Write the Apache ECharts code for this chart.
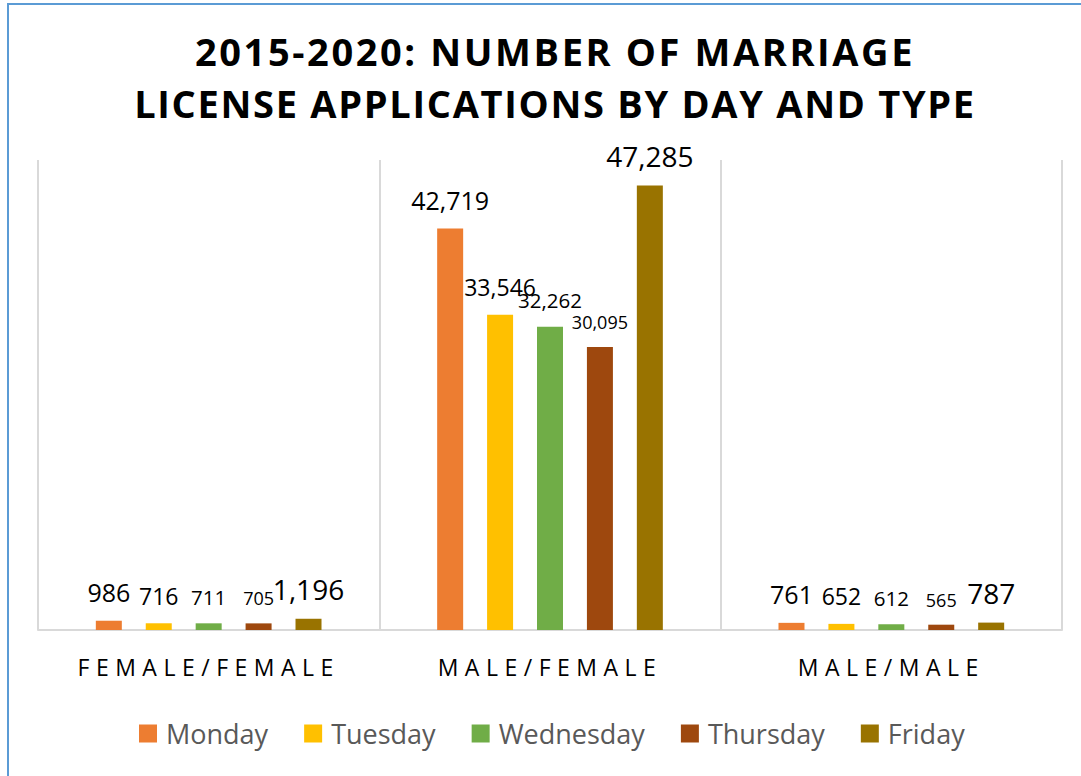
<!DOCTYPE html>
<html>
<head>
<meta charset="utf-8">
<title>Marriage license applications</title>
<script src="https://cdn.jsdelivr.net/npm/echarts@6/dist/echarts.min.js"></script>
<style>
  html, body { margin: 0; padding: 0; background: #fff; }
  #chart { width: 1081px; height: 776px; }
</style>
</head>
<body>
<div id="chart"></div>
<script>
// data
const categories = ['FEMALE/FEMALE', 'MALE/FEMALE', 'MALE/MALE'];
const days = ['Monday', 'Tuesday', 'Wednesday', 'Thursday', 'Friday'];
const monday = [986, 42719, 761];
const tuesday = [716, 33546, 652];
const wednesday = [711, 32262, 612];
const thursday = [705, 30095, 565];
const friday = [1196, 47285, 787];
const titleLines = ['2015-2020: NUMBER OF MARRIAGE', 'LICENSE APPLICATIONS BY DAY AND TYPE'];

const colors = ['#ED7D31', '#FFC000', '#70AD47', '#9E480E', '#997300'];
const labelSizes = [25, 23, 20.5, 18, 28];
const font = "'Open Sans', 'Noto Sans', sans-serif";

const chartDom = document.getElementById('chart');
const myChart = echarts.init(chartDom, null, { renderer: 'svg' });

const makeSeries = (name, values, i) => ({
  name: name,
  type: 'bar',
  data: values,
  barWidth: 26,
  barGap: '92%',
  itemStyle: { color: colors[i] },
  label: {
    show: true,
    position: 'top',
    distance: 16,
    color: '#000',
    fontFamily: font,
    fontSize: labelSizes[i],
    formatter: p => p.value.toLocaleString('en-US')
  }
});

const option = {
  animation: false,
  graphic: [{
    type: 'rect',
    shape: { x: 8, y: 4, width: 1200, height: 900 },
    style: { fill: 'none', stroke: '#5B9BD5', lineWidth: 2 },
    silent: true
  }],
  title: {
    text: titleLines.join('\n'),
    left: 550,
    top: 20,
    textAlign: 'center',
    textStyle: {
      fontFamily: font,
      fontWeight: 'bold',
      fontSize: 38,
      lineHeight: 52,
      color: '#000'
    }
  },
  legend: {
    data: days,
    left: 134,
    top: 715,
    icon: 'rect',
    itemWidth: 18,
    itemHeight: 18,
    itemGap: 36,
    textStyle: {
      fontFamily: font,
      fontSize: 27,
      color: '#595959',
      padding: [0, 0, 0, 4]
    }
  },
  grid: {
    left: 38,
    right: 19,
    top: 160,
    bottom: 146,
    containLabel: false
  },
  xAxis: {
    type: 'category',
    data: categories,
    axisTick: { show: false },
    axisLine: { lineStyle: { color: '#d9d9d9', width: 2 } },
    splitLine: { show: true, lineStyle: { color: '#d9d9d9', width: 2 } },
    axisLabel: {
      margin: 25,
      color: '#000',
      fontFamily: font,
      fontSize: 23
    }
  },
  yAxis: {
    type: 'value',
    min: 0,
    max: 50000,
    show: false
  },
  series: [
    makeSeries('Monday', monday, 0),
    makeSeries('Tuesday', tuesday, 1),
    makeSeries('Wednesday', wednesday, 2),
    makeSeries('Thursday', thursday, 3),
    makeSeries('Friday', friday, 4)
  ]
};

myChart.setOption(option);

// spread the title and category letters like the original
const spaceText = () => {
  chartDom.querySelectorAll('text').forEach(t => {
    const s = t.textContent;
    if (s === titleLines[0]) t.setAttribute('letter-spacing', '2.6');
    else if (s === titleLines[1]) t.setAttribute('letter-spacing', '1.7');
    else if (categories.includes(s)) t.setAttribute('letter-spacing', '6.5');
  });
};
spaceText();
myChart.on('finished', spaceText);
</script>
</body>
</html>
